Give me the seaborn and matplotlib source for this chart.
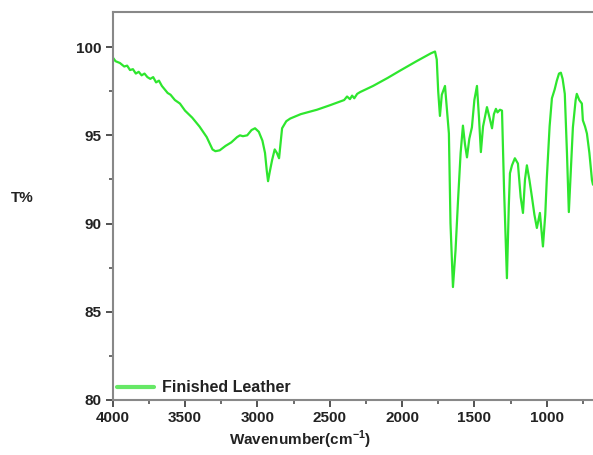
import numpy as np
import pandas as pd
import matplotlib
matplotlib.use('Agg')
import matplotlib.pyplot as plt
from matplotlib.ticker import MultipleLocator
import seaborn as sns

# FTIR spectrum of finished leather
wavenumber = [3998, 3980, 3950, 3920, 3900, 3880, 3860, 3840, 3820, 3800,
              3780, 3760, 3740, 3720, 3700, 3680, 3660, 3640, 3620, 3600,
              3570, 3535, 3500, 3450, 3400, 3350, 3310, 3290, 3260, 3220,
              3180, 3140, 3120, 3100, 3070, 3040, 3016, 2990, 2965, 2947,
              2935, 2926, 2915, 2898, 2880, 2865, 2850, 2838, 2829, 2800,
              2773, 2700, 2588, 2500, 2400, 2380, 2360, 2345, 2330, 2310,
              2290, 2200, 2100, 2015, 1900, 1800, 1772, 1760, 1750, 1738,
              1725, 1703, 1690, 1676, 1665, 1648, 1630, 1613, 1595, 1579,
              1565, 1551, 1535, 1517, 1500, 1482, 1468, 1455, 1440, 1413,
              1395, 1378, 1365, 1351, 1340, 1323, 1309, 1295, 1275, 1262,
              1254, 1240, 1220, 1199, 1180, 1164, 1150, 1137, 1120, 1102,
              1085, 1068, 1047, 1026, 1010, 999, 980, 964, 945, 930,
              915, 902, 890, 875, 860, 847, 830, 819, 800, 792,
              775, 757, 750, 735, 722, 705, 687, 680]
transmittance = [99.4, 99.2, 99.1, 98.9, 98.95, 98.7, 98.75, 98.5, 98.6, 98.4,
                 98.5, 98.3, 98.2, 98.3, 98.0, 98.1, 97.8, 97.6, 97.4, 97.3,
                 97.0, 96.8, 96.4, 96.0, 95.5, 94.9, 94.2, 94.1, 94.15, 94.4,
                 94.6, 94.9, 95.0, 94.95, 95.0, 95.3, 95.4, 95.2, 94.7, 94.0,
                 93.0, 92.4, 92.9, 93.6, 94.2, 94.0, 93.7, 94.7, 95.4, 95.8,
                 95.95, 96.2, 96.45, 96.7, 97.0, 97.2, 97.05, 97.25, 97.1, 97.35,
                 97.45, 97.8, 98.25, 98.66, 99.2, 99.65, 99.75, 99.3, 97.5, 96.1,
                 97.3, 97.8, 96.5, 95.1, 90.0, 86.4, 88.5, 91.3, 94.0, 95.55,
                 94.5, 93.75, 94.8, 95.45, 97.0, 97.8, 96.0, 94.05, 95.5, 96.6,
                 96.0, 95.4, 96.2, 96.5, 96.3, 96.45, 96.4, 92.0, 86.9, 91.0,
                 92.85, 93.3, 93.7, 93.4, 91.5, 90.6, 92.5, 93.3, 92.5, 91.5,
                 90.5, 89.75, 90.6, 88.7, 90.5, 92.6, 95.5, 97.1, 97.6, 98.1,
                 98.5, 98.55, 98.2, 97.35, 94.0, 90.65, 93.5, 95.45, 97.0, 97.35,
                 97.0, 96.8, 95.85, 95.5, 95.1, 94.0, 92.45, 92.2]

df = pd.DataFrame({'wavenumber': wavenumber, 'T': transmittance})

sns.set_style('ticks')
plt.rcParams['font.family'] = ['Liberation Sans', 'DejaVu Sans']
plt.rcParams['font.weight'] = 'bold'
plt.rcParams['mathtext.default'] = 'bf'

fig = plt.figure(figsize=(5.93, 4.55), dpi=100)
ax = fig.add_axes([0.190, 0.121, 0.810, 0.853])

sns.lineplot(data=df, x='wavenumber', y='T', ax=ax, color='#2ee62e',
             linewidth=1.6, sort=False, label='Finished Leather')

ax.set_xlim(4000, 680)
ax.set_ylim(80, 102)
ax.xaxis.set_major_locator(MultipleLocator(500))
ax.xaxis.set_minor_locator(MultipleLocator(250))
ax.yaxis.set_major_locator(MultipleLocator(5))
ax.yaxis.set_minor_locator(MultipleLocator(2.5))
ax.tick_params(which='major', direction='out', length=5, width=1.3,
               color='#444444', labelsize=11, pad=3, labelcolor='#222222')
ax.tick_params(which='minor', direction='out', length=3, width=1.1,
               color='#444444')

for side in ['left', 'bottom', 'top']:
    ax.spines[side].set_color('#888888')
    ax.spines[side].set_linewidth(1.5)
ax.spines['right'].set_visible(False)

ax.set_xlabel('')
ax.set_ylabel('')
fig.text(300 / 593, 1 - 440 / 455, 'Wavenumber(cm$^{\\mathregular{-1}}$)',
         ha='center', va='center', fontsize=11, fontweight='bold',
         color='#222222')
fig.text(22 / 593, 1 - 198 / 455, 'T%', ha='center', va='center',
         fontsize=11, fontweight='bold', color='#222222')

leg = ax.legend(loc='lower left', frameon=False, fontsize=11.5,
                handlelength=2.3, borderaxespad=0.1, borderpad=0.2,
                handletextpad=0.5)
for text in leg.get_texts():
    text.set_color('#222222')
for line in leg.get_lines():
    line.set_color('#66e866')
    line.set_linewidth(3)

fig.savefig('out.png', dpi=100)
